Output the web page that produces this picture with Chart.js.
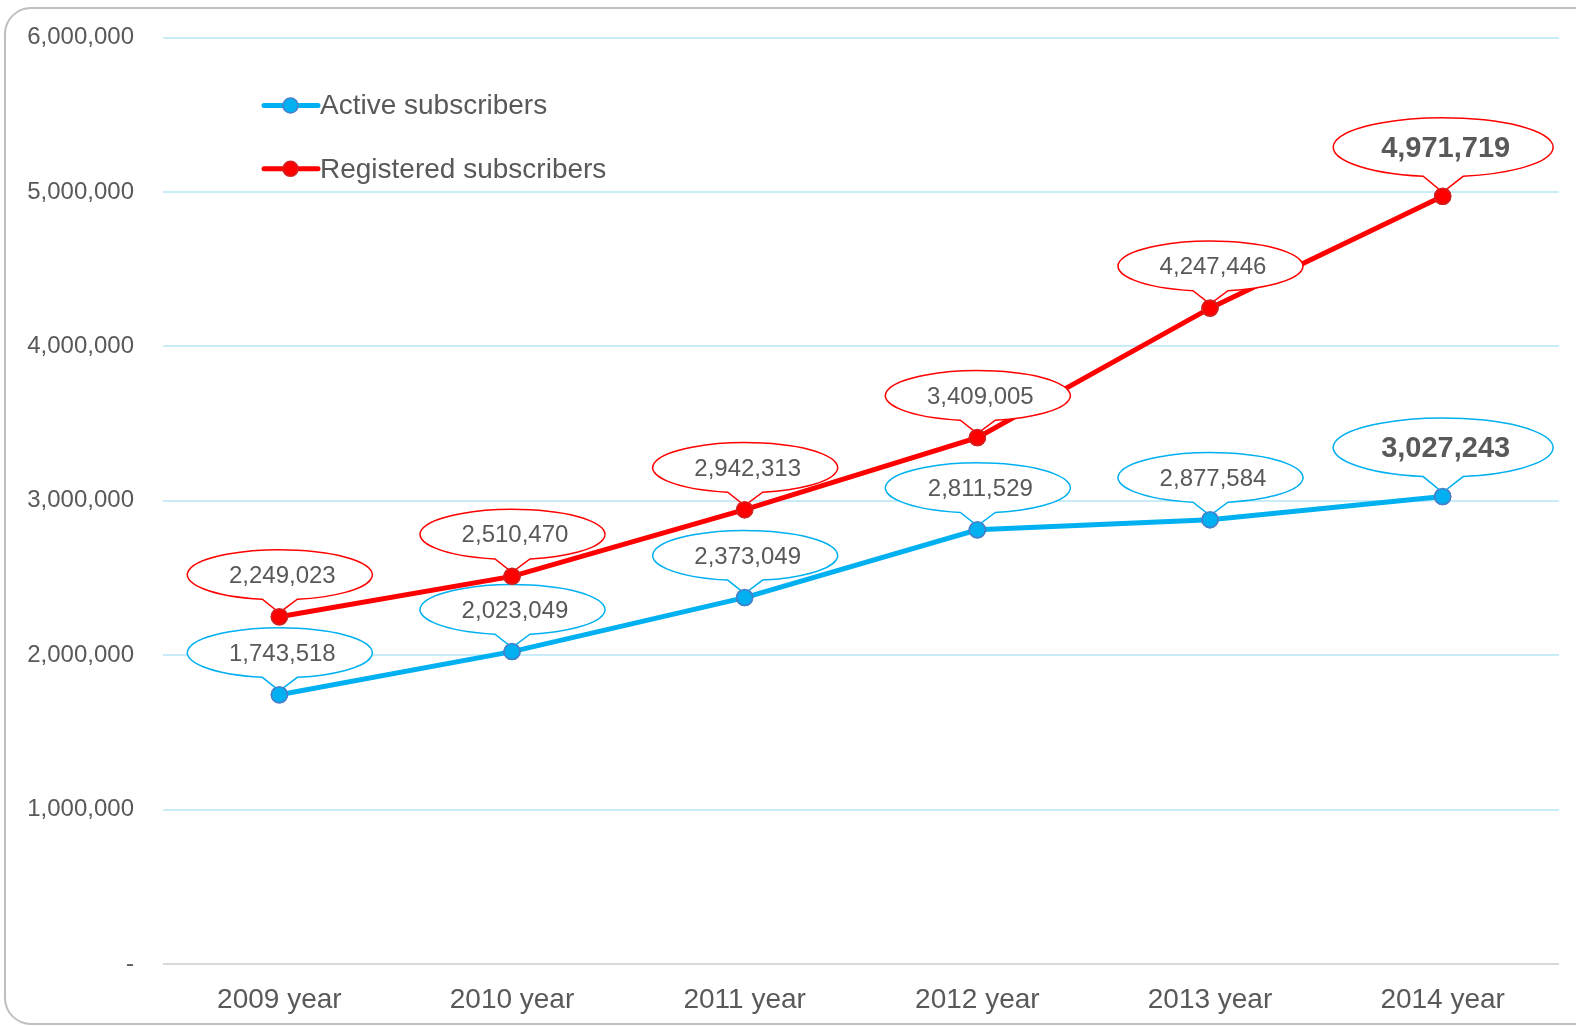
<!DOCTYPE html>
<html><head><meta charset="utf-8">
<script src="https://cdn.jsdelivr.net/npm/chart.js@4/dist/chart.umd.min.js"></script>
<style>html,body{margin:0;padding:0;background:#fff;}#wrap{width:1576px;height:1026px;}</style>
</head><body><div id="wrap"><canvas id="c" width="1576" height="1026"></canvas></div>
<script>
const categories = ['2009 year','2010 year','2011 year','2012 year','2013 year','2014 year'];
const activeSubscribers = [1743518, 2023049, 2373049, 2811529, 2877584, 3027243];
const registeredSubscribers = [2249023, 2510470, 2942313, 3409005, 4247446, 4971719];
const seriesNames = ['Active subscribers','Registered subscribers'];
const yTicks = [0,1000000,2000000,3000000,4000000,5000000,6000000];

const BLUE='#00B0F0', RED='#FF0000', TXT='#595959';
const FONT='"Liberation Sans", Arial';
const fmt = v => v===0 ? '-' : v.toLocaleString('en-US');

const framePlugin = {
  id:'frame',
  beforeDraw(chart){
    const ctx=chart.ctx; ctx.save();
    ctx.fillStyle='#fff'; ctx.fillRect(0,0,chart.width,chart.height);
    ctx.strokeStyle='#BFBFBF'; ctx.lineWidth=2;
    ctx.beginPath(); ctx.roundRect(5,8,1620,1016,26); ctx.stroke();
    ctx.restore();
  }
};

function callout(ctx,cx,cy,a,b,d,tipX,tipY,color){
  const th=Math.acos(d/a);
  const tL=Math.PI-th, tR=th;
  ctx.beginPath();
  ctx.ellipse(cx,cy,a,b,0,tL,tR+2*Math.PI,false);
  ctx.lineTo(tipX,tipY);
  ctx.closePath();
  ctx.fillStyle='#fff'; ctx.fill();
  ctx.strokeStyle=color; ctx.lineWidth=1.5; ctx.stroke();
}

const labelPlugin = {
  id:'callouts',
  afterDatasetsDraw(chart){
    const ctx=chart.ctx; ctx.save();
    chart.data.datasets.forEach((ds,di)=>{
      const meta=chart.getDatasetMeta(di);
      meta.data.forEach((pt,i)=>{
        const last = i===meta.data.length-1;
        const a = last?110:92.5, b = last?29.5:25, gap = last?19.5:17, d = last?20:17.5;
        const cy = pt.y - gap - b;
        const cx = pt.x + 0.5;
        callout(ctx,cx,cy,a,b,d,pt.x,pt.y-4,ds.borderColor);
        ctx.fillStyle=TXT;
        ctx.font = last ? 'bold 29px '+FONT : '24px '+FONT;
        ctx.textAlign='center'; ctx.textBaseline='middle';
        ctx.fillText(fmt(ds.data[i]), cx+2.5, cy+1.5);
      });
    });
    chart.data.datasets.forEach((ds,di)=>{
      chart.getDatasetMeta(di).data.forEach(pt=>pt.draw(ctx,chart.chartArea));
    });
    chart.data.datasets.forEach((ds,di)=>{
      const y = 105.5 + di*63.3;
      ctx.strokeStyle=ds.borderColor; ctx.lineWidth=5; ctx.lineCap='round';
      ctx.beginPath(); ctx.moveTo(264,y); ctx.lineTo(318,y); ctx.stroke();
      ctx.beginPath(); ctx.arc(290.5,y,7.5,0,Math.PI*2);
      ctx.fillStyle=ds.pointBackgroundColor; ctx.fill();
      ctx.lineWidth=1.5; ctx.strokeStyle=ds.pointBorderColor; ctx.stroke();
      ctx.fillStyle=TXT; ctx.font='28px '+FONT;
      ctx.textAlign='left'; ctx.textBaseline='middle';
      ctx.fillText(ds.label,320,y+1);
    });
    ctx.restore();
  }
};

new Chart(document.getElementById('c'),{
  type:'line',
  data:{
    labels:categories,
    datasets:[
      {label:seriesNames[0],data:activeSubscribers,borderColor:BLUE,backgroundColor:BLUE,
       pointBackgroundColor:BLUE,pointBorderColor:'#4A7EC8',borderWidth:5,pointRadius:8,pointBorderWidth:1.5,tension:0},
      {label:seriesNames[1],data:registeredSubscribers,borderColor:RED,backgroundColor:RED,
       pointBackgroundColor:RED,pointBorderColor:'#D02020',borderWidth:5,pointRadius:8,pointBorderWidth:1.5,tension:0}
    ]
  },
  options:{
    responsive:false,animation:false,devicePixelRatio:1,
    layout:{padding:{left:0,right:17,top:37.5,bottom:0}},
    plugins:{legend:{display:false},tooltip:{enabled:false}},
    scales:{
      x:{
        offset:true,
        grid:{display:false},
        border:{display:false},
        ticks:{color:TXT,font:{family:FONT,size:28},padding:11,maxRotation:0},
        afterFit(s){s.height=62;s.paddingLeft=0;s.paddingRight=0;}
      },
      y:{
        min:0,max:6000000,
        afterBuildTicks(s){s.ticks=yTicks.map(v=>({value:v}));},
        grid:{color:c=>c.tick&&c.tick.value===0?'#D9D9D9':'#C8EDF8',lineWidth:2,drawTicks:false},
        border:{display:false},
        ticks:{color:TXT,font:{family:FONT,size:24},padding:29,callback:v=>fmt(v)},
        afterFit(s){s.width=163;s.paddingTop=0;s.paddingBottom=0;}
      }
    }
  },
  plugins:[framePlugin,labelPlugin]
});
</script></body></html>
